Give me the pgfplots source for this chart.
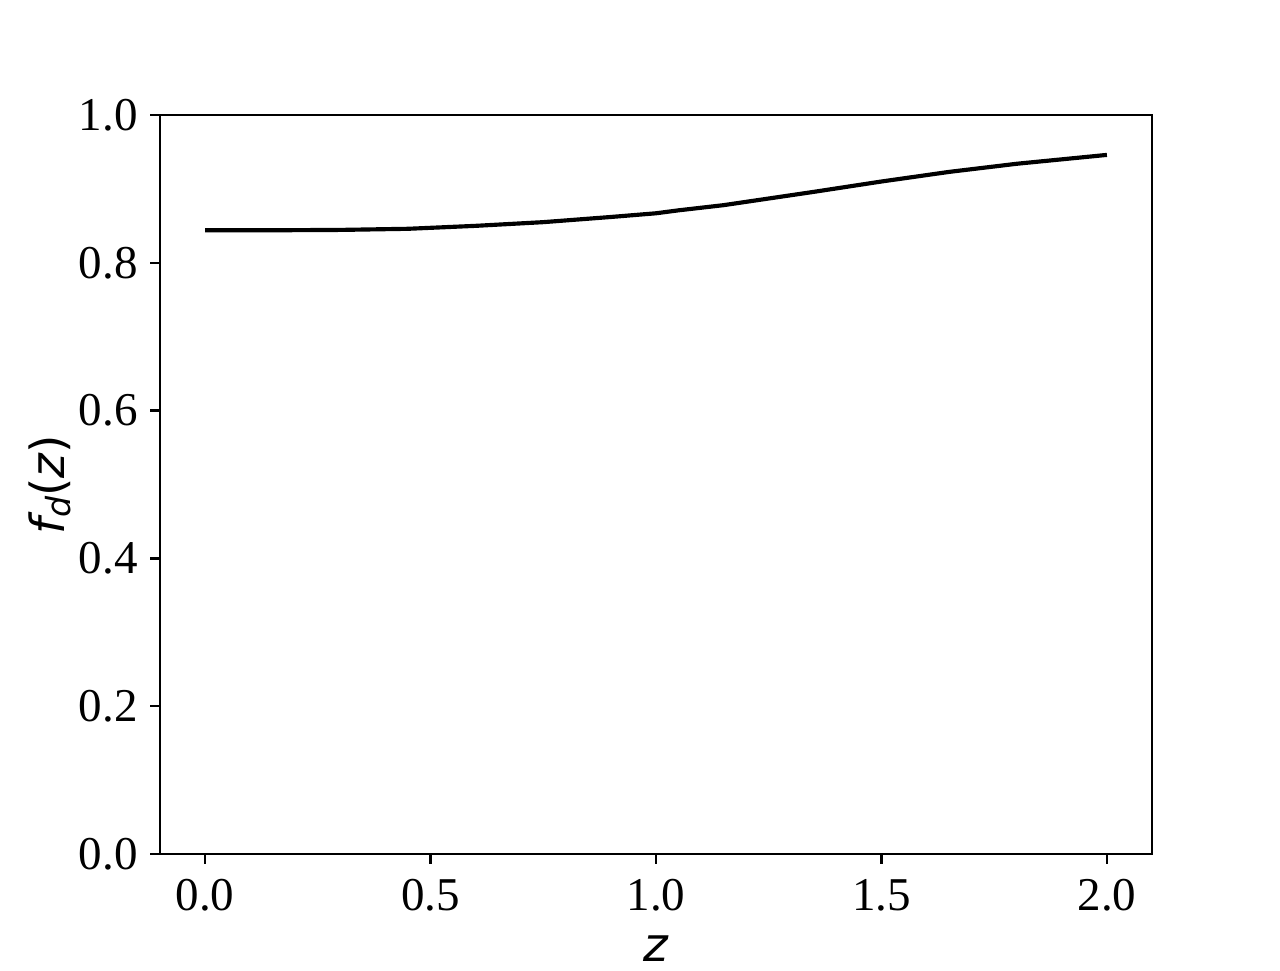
\documentclass[border=0pt]{standalone}
\usepackage{fontspec}
\setmainfont{Liberation Serif}
\newfontfamily\dejavu{DejaVu Sans}
\usepackage{pgfplots}
\pgfplotsset{compat=1.18}

\begin{document}
\begin{tikzpicture}
  \begin{axis}[
      scale only axis,
      width=4.96in, height=3.695in,
      xmin=-0.1, xmax=2.1,
      ymin=0, ymax=1,
      xtick={0,0.5,1,1.5,2},
      ytick={0,0.2,0.4,0.6,0.8,1.0},
      xticklabels={0.0,0.5,1.0,1.5,2.0},
      yticklabels={0.0,0.2,0.4,0.6,0.8,1.0},
      tick align=outside,
      xtick pos=bottom, ytick pos=left,
      major tick length=3.5pt,
      every tick/.style={black, line width=0.8pt},
      axis line style={line width=0.8pt},
      ticklabel style={font=\fontsize{17}{20}\selectfont},
      xticklabel style={yshift=-2pt},
      yticklabel style={xshift=-1pt},
      xlabel={{\dejavu\fontsize{17}{20}\selectfont\itshape z}},
      ylabel={{\dejavu\fontsize{17}{20}\selectfont\itshape f\raisebox{-0.25ex}{\fontsize{12}{12}\selectfont d}\upshape(\itshape z\upshape)}},
      xlabel style={yshift=-2pt},
      ylabel style={yshift=-4pt},
    ]
    \addplot[black, line width=1.5pt] coordinates {
      (0.00,0.844) (0.15,0.844) (0.30,0.8445) (0.45,0.846) (0.60,0.850)
      (0.75,0.855) (0.90,0.862) (1.00,0.867) (1.05,0.871) (1.15,0.878)
      (1.25,0.887) (1.35,0.896) (1.50,0.910) (1.65,0.923) (1.80,0.934)
      (1.90,0.940) (2.00,0.946)
    };
  \end{axis}
  \useasboundingbox (-0.8in,-0.53in) rectangle (5.6in,4.27in);
\end{tikzpicture}
\end{document}
